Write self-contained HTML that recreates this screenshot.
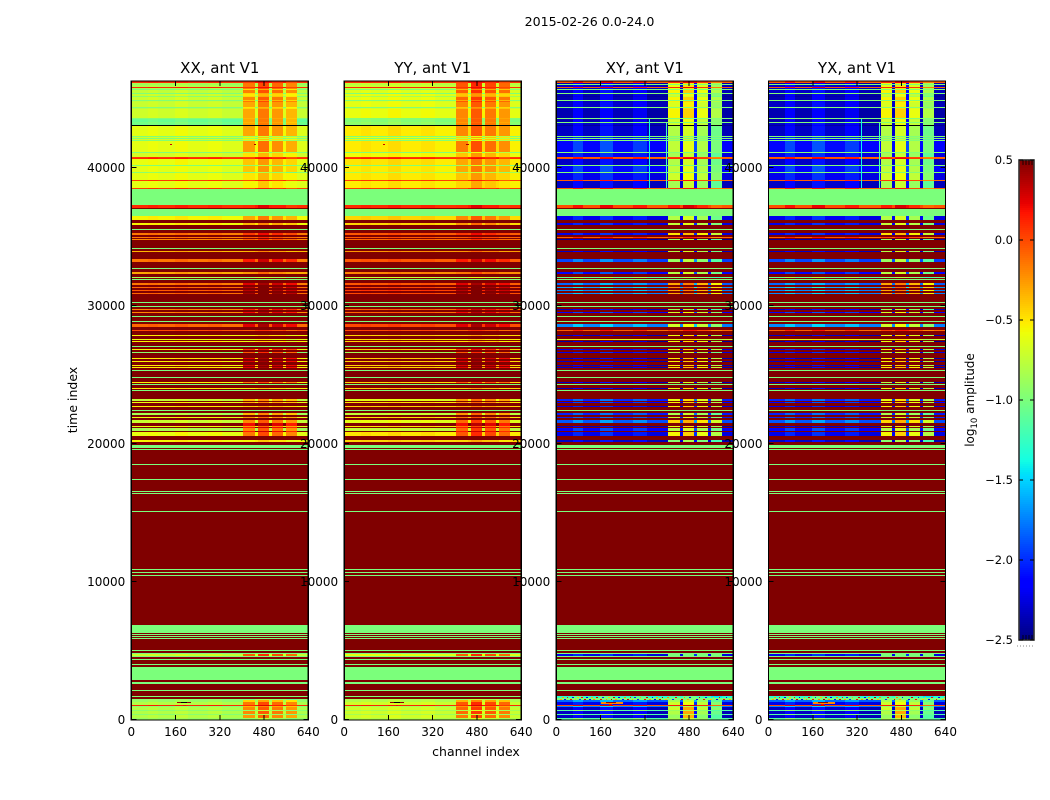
<!DOCTYPE html>
<html lang="en">
<head>
<meta charset="utf-8">
<title>2015-02-26 0.0-24.0</title>
<style>
html,body{margin:0;padding:0;background:#fff;width:1050px;height:800px;overflow:hidden}
svg{display:block}
text{font-family:"DejaVu Sans","Liberation Sans",sans-serif;fill:#000}
</style>
</head>
<body>
<svg id="figure" xmlns="http://www.w3.org/2000/svg" width="1050" height="800" viewBox="0 0 1050 800">
  <rect x="0" y="0" width="1050" height="800" fill="#fff"/>
  <g id="panels"></g>
  <g id="colorbar"></g>
  <g id="labels"></g>
  <text x="589.5" y="26" font-size="12.6" text-anchor="middle">2015-02-26 0.0-24.0</text>
  <text x="476" y="756" font-size="12.5" text-anchor="middle">channel index</text>
  <text transform="translate(77,400) rotate(-90)" font-size="12.5" text-anchor="middle">time index</text>
  <text transform="translate(974,400) rotate(-90)" font-size="12" text-anchor="middle">log<tspan font-size="8.5" dy="3">10</tspan><tspan dy="-3"> amplitude</tspan></text>
</svg>
<script>
const panelTitles = ["XX, ant V1", "YY, ant V1", "XY, ant V1", "YX, ant V1"];
const xTicks = [0, 160, 320, 480, 640];
const yTicks = [0, 10000, 20000, 30000, 40000];
const colorTicks = [0.5, 0.0, -0.5, -1.0, -1.5, -2.0, -2.5];
const saturatedValue = 0.6;
const flagValue = -1;
const timeMax = 46270;
const channelMax = 640;
const channelEdges = [0, 60, 96, 157, 204, 277, 328, 405, 448, 458, 498, 509, 549, 560, 600, 640];
const columnRoles = ["low", "low", "low", "low", "low", "low", "low", "high", "gap", "high", "gap", "high", "gap", "high", "low"];
const parallelOffsets = [0, 0.03, 0, 0.05, 0, 0.03, -0.02, -0.05, 0.06, 0.1, 0.06, 0, 0.06, -0.1, -0.02];
const crossOffsets = [-0.12, 0.08, -0.12, 0.12, -0.1, 0.05, -0.15, 0, -0.1, 0.12, 0.1, -0.05, -0.1, -0.25, -0.15];
const parallelHandShift = [0, 0.1];

/* each band: time start, time end, XX low, XX high, XY low, XY high */
const flaggedSpans = [[2100, 2170], [2570, 2640], [2680, 2750], [2862, 3800], [3985, 4055], [4350, 4420], [4529, 4600], [4750, 4819], [5000, 5070], [5800, 5870], [5965, 6035], [6110, 6180], [6255, 6325], [6340, 6847], [10415, 10485], [10630, 10700], [10850, 10920], [15050, 15120], [16355, 16425], [16500, 16570], [17370, 17440], [18457, 18527], [19544, 19614], [19673, 19890], [22390, 22460], [23840, 23910], [24275, 24345], [24782, 24852], [25290, 25360], [26965, 27035], [28840, 28910], [29200, 29270], [29890, 29960], [30215, 30285], [31882, 31952], [32675, 32745], [34125, 34195], [35450, 35520], [36520, 36980], [37280, 38419]];
const bandsBottom = [
  [0, 140, -0.9, -0.85, -1.02, -0.85],
  [140, 290, -0.8, -0.2, -2.2, -0.9],
  [290, 430, -0.95, -0.9, -1.02, -0.85],
  [430, 580, -0.8, -0.15, -2.2, -0.8],
  [580, 720, -0.95, -0.85, -1.02, -0.9],
  [720, 870, -0.8, -0.15, -2.2, -0.7],
  [870, 970, -0.95, -0.3, -1.6, -0.9],
  [970, 1050, 0.12, 0.15, 0.12, 0.15],
  [1050, 1260, -0.8, -0.1, -2.1, -0.7],
  [1260, 1400, -0.9, -0.4, -1.7, -0.85],
  [1400, 1490, -0.95, -0.95, -0.98, -0.98],
  [1490, 1530, 0.6, 0.6, -0.98, -0.98],
  [1530, 1600, -0.98, -0.98, -1.15, -1.15],
  [1600, 1620, 0.6, 0.6, -1.15, -1.15],
  [1620, 1700, -0.98, -0.98, -1.2, -1.2],
  [4600, 4750, -0.7, 0, -2.1, -1.0]
];
const bandsMiddle = [
  [20130, 20230, -0.55, -0.5, -2.2, -0.95],
  [20540, 20830, -0.6, -0.1, -2.1, -0.55],
  [20830, 20905, 0.6, 0.2, 0.6, 0.6],
  [20905, 21100, -0.85, -0.15, -2, -0.8],
  [21100, 21180, 0.6, 0.2, 0.6, 0.6],
  [21180, 21250, -0.6, -0.2, -2.2, -0.6],
  [21250, 21480, 0.6, 0.25, 0.6, 0.6],
  [21480, 21720, -0.72, -0.15, -1.75, -0.45],
  [21880, 21950, -0.6, -0.2, -1.9, -0.7],
  [22100, 22210, -0.85, -0.3, -1.9, -0.85],
  [22680, 22750, -0.55, -0.4, -2.1, -0.55],
  [22950, 23030, -0.6, -0.3, -2, -0.55],
  [23080, 23220, -0.75, -0.3, -1.9, -0.6],
  [23985, 24055, -0.55, -0.5, -2.2, -0.6],
  [24420, 24490, -0.55, -0.1, -2.2, -0.8],
  [25505, 25575, -0.55, 0.3, -2.2, -0.5],
  [25650, 25720, -0.55, 0.3, -2.2, -0.55],
  [25915, 25985, -0.55, 0.3, -2.2, -0.55],
  [26160, 26230, -0.55, 0.3, -2.2, -0.55],
  [26540, 26660, -0.95, 0, -2.1, -0.8],
  [26805, 26875, -0.55, 0.1, -2.1, -0.6],
  [27390, 27460, -0.55, -0.55, -2.3, -0.6],
  [27535, 27605, -0.6, -0.6, -0.6, -0.6],
  [27825, 27895, -0.55, -0.5, -2.2, -0.6],
  [28165, 28235, 0, 0, 0.05, 0.05],
  [28440, 28655, -0.1, 0.3, -1.6, -0.7],
  [29450, 29520, -0.2, 0.25, -2, -0.7],
  [29650, 29720, -0.2, 0.2, -2.2, -0.9],
  [30840, 30910, -0.1, 0.45, -1.6, -0.3],
  [31085, 31155, -0.05, 0.4, -1.6, -0.3],
  [31305, 31375, -0.1, 0.4, -1.5, -0.2],
  [31480, 31600, -0.15, 0.3, -1.7, -0.3],
  [32025, 32095, -0.85, -0.85, -0.95, -0.95],
  [32290, 32420, -0.3, -0.2, -2, -0.8],
  [33150, 33370, -0.15, 0.2, -1.8, -0.9],
  [33915, 33985, -0.35, -0.3, -2.2, -0.8],
  [34780, 34850, -0.2, 0, -2.3, -0.9],
  [34925, 34995, -0.15, 0, 0.05, 0.05],
  [35100, 35250, -0.15, 0.1, -2.1, -0.5],
  [35800, 35950, -0.55, -0.3, -2.1, -0.75],
  [36190, 36480, -0.55, -0.25, -2.1, -0.8],
  [37030, 37280, 0.1, 0.15, 0.1, 0.15],
  [38419, 38500, 0.05, 0.05, 0.05, 0.05]
];
const bandsTop = [
  [38500, 39000, -0.62, -0.5, -2.2, -0.85],
  [39000, 39070, 0.05, 0.05, 0.05, 0.05],
  [39070, 39610, -0.62, -0.45, -2.1, -0.7],
  [39610, 39690, -0.95, -0.95, -0.98, -0.98],
  [39690, 40090, -0.62, -0.35, -2, -0.75],
  [40090, 40170, -0.98, -0.9, -0.98, -0.98],
  [40170, 40650, -0.6, -0.35, -2.2, -0.8],
  [40650, 40720, 0.1, 0.1, 0.1, 0.1],
  [40720, 40790, 0.05, 0.05, 0.05, 0.05],
  [40790, 41040, -0.68, -0.45, -2.1, -0.85],
  [41040, 41110, -0.98, -0.8, -0.98, -0.98],
  [41110, 41890, -0.62, -0.22, -2, -0.75],
  [41890, 41960, -0.98, -0.8, -0.98, -0.98],
  [41960, 42075, -0.7, -0.5, -2.1, -0.85],
  [42075, 42145, -0.98, -0.8, -0.98, -0.98],
  [42145, 42245, -0.7, -0.5, -2.1, -0.85],
  [42245, 42315, -0.98, -0.8, -0.98, -0.98],
  [42315, 43040, -0.62, -0.25, -2.2, -0.8],
  [43040, 43110, -3, -3, -2.3, -3],
  [43110, 43260, -1.05, -0.25, -2.2, -0.7],
  [43260, 43330, -1.02, -0.3, -0.98, -0.98],
  [43330, 43550, -1.08, -0.25, -2.25, -0.7],
  [43550, 43620, -0.98, -0.3, -0.98, -0.98],
  [43620, 44210, -0.7, -0.25, -2.25, -0.55],
  [44210, 44280, -0.98, -0.45, -0.98, -0.98],
  [44280, 44310, -0.8, -0.4, -2.2, -0.6],
  [44310, 44380, -0.98, -0.45, -0.98, -0.98],
  [44380, 44715, -0.72, -0.25, -2.2, -0.65],
  [44715, 44785, 0.1, 0.1, 0.1, 0.1],
  [44785, 44855, -0.75, -0.1, -2.25, -0.55],
  [44855, 44925, -0.98, -0.35, -0.98, -0.98],
  [44925, 45100, -0.72, -0.15, -2.25, -0.55],
  [45100, 45170, -0.95, -0.4, -2.3, -0.8],
  [45170, 45330, -0.72, -0.45, -2.25, -0.7],
  [45330, 45400, -0.98, -0.4, -0.98, -0.98],
  [45400, 45620, -0.75, -0.12, -2.2, -0.55],
  [45620, 45690, -0.98, -0.4, -0.98, -0.98],
  [45690, 45760, -0.85, -0.1, -2.2, -0.6],
  [45760, 45835, 0.1, 0.1, 0.1, 0.1],
  [45835, 45980, -0.82, -0.1, -2.2, -0.6],
  [45980, 46050, -0.9, -0.1, -0.98, -0.98],
  [46050, 46150, -0.85, -0.1, -2.25, -0.6],
  [46150, 46270, 0.1, 0.1, 0.1, 0.1]
];
/* localised features: time start, time end, channel start, channel end, value */
const parallelSpots = [[1170, 1300, 165, 215, 0.45], [1195, 1265, 180, 200, -3], [1000, 1080, 188, 196, 0.2], [41660, 41730, 140, 146, 0.3], [41660, 41730, 442, 452, 0.4]];
const crossSpots = [[1130, 1260, 160, 240, -0.2], [1165, 1240, 180, 215, 0.45], [1030, 1090, 190, 200, 0.2], [38500, 43500, 334, 337, -1.4], [38500, 43200, 398, 402, -1.2], [140, 290, 458, 498, -0.35], [430, 580, 458, 498, -0.3], [720, 870, 458, 498, -0.3]];
const speckleChannels = [12, 28, 48, 66, 82, 100, 118, 134, 158, 178, 196, 214, 236, 256, 272, 292, 316, 336, 352, 372, 392, 420, 452, 472, 506, 530, 556, 578, 604, 626];
const speckleValues = [-0.3, -2.1, 0.2, -0.4, -2, 0.3, -2.2, -0.2, 0.2, -0.2, 0.4, -0.3, -2.1, 0.3, -0.3, -2, 0.2, -0.2, -2.2, 0.3, -0.4, -2, 0.3, -0.3, -2.2, 0.2, -0.4, -2.1, 0.2, -0.3];

const NS = "http://www.w3.org/2000/svg";
const panelLefts = [131.3, 344.2, 556.3, 768.5];
const panelWidth = 177;
const plotTop = 81;
const plotBottom = 720;
const cbarLeft = 1019, cbarRight = 1034, cbarTop = 160, cbarBottom = 640;
const panelsRoot = document.getElementById("panels");
const labelsRoot = document.getElementById("labels");
const cbarRoot = document.getElementById("colorbar");

function xScale(panelIndex, channel) { return panelLefts[panelIndex] + channel / channelMax * panelWidth; }
function yScale(time) { return plotBottom - 0.5 - time / 10000 * 138; }
function cbarScale(v) { return cbarBottom - (v + 2.5) / 3 * (cbarBottom - cbarTop); }
function interp(pts, x) {
  for (let i = 1; i < pts.length; i++) {
    if (x <= pts[i][0]) {
      const a = pts[i - 1], b = pts[i];
      return a[1] + (b[1] - a[1]) * (x - a[0]) / (b[0] - a[0]);
    }
  }
  return pts[pts.length - 1][1];
}
function jet(v) {
  if (v <= -3) return "#000";
  const n = Math.max(0, Math.min(1, (v + 2.5) / 3));
  const r = interp([[0, 0], [0.35, 0], [0.66, 1], [0.89, 1], [1, 0.5]], n);
  const g = interp([[0, 0], [0.125, 0], [0.375, 1], [0.64, 1], [0.91, 0], [1, 0]], n);
  const b = interp([[0, 0.5], [0.11, 1], [0.34, 1], [0.65, 0], [1, 0]], n);
  return "rgb(" + Math.round(r * 255) + "," + Math.round(g * 255) + "," + Math.round(b * 255) + ")";
}
function make(tag, attrs, parent) {
  const el = document.createElementNS(NS, tag);
  for (const k in attrs) el.setAttribute(k, attrs[k]);
  parent.appendChild(el);
  return el;
}
function adjust(v, offset, shift) {
  if (v === flagValue || v <= -0.98 && v >= -1 || v >= 0.5 || v <= -3) return v;
  return v + offset + (v < 0 ? shift : 0);
}
function drawCell(parent, p, t0, t1, c0, c1, v) {
  const y1 = Math.round(yScale(t1)), y0 = Math.round(yScale(t0));
  const x0 = Math.round(xScale(p, c0)), x1 = Math.round(xScale(p, c1));
  const cell = make("rect", { x: x0, y: y1, width: Math.max(x1 - x0, 1), height: Math.max(y0 - y1, 1), fill: jet(v) }, parent);
  
  
}
function drawBand(parent, p, band) {
  const isCross = p >= 2;
  const low = isCross ? band[4] : band[2];
  const high = isCross ? band[5] : band[3];
  const offsets = isCross ? crossOffsets : parallelOffsets;
  const shift = isCross ? 0 : parallelHandShift[p];
  for (let c = 0; c < columnRoles.length; c++) {
    const base = columnRoles[c] === "high" ? high : low;
    drawCell(parent, p, band[0], band[1], channelEdges[c], channelEdges[c + 1], adjust(base, offsets[c], shift));
  }
}

panelTitles.forEach(function (title, p) {
  const left = panelLefts[p];
  const g = make("g", { "shape-rendering": "crispEdges" }, panelsRoot);
  
  

  drawCell(g, p, 0, timeMax, 0, channelMax, saturatedValue);
  flaggedSpans.forEach(function (s) { drawCell(g, p, s[0], s[1], 0, channelMax, flagValue); });
  bandsBottom.concat(bandsMiddle, bandsTop).forEach(function (b) { drawBand(g, p, b); });
  (p < 2 ? parallelSpots : crossSpots).forEach(function (s) { drawCell(g, p, s[0], s[1], s[2], s[3], s[4]); });
  if (p >= 2) {
    speckleChannels.forEach(function (c, i) { drawCell(g, p, 1430, 1500, c, c + 7, speckleValues[i]); });
    speckleChannels.forEach(function (c, i) { drawCell(g, p, 1560, 1625, c + 9, c + 15, speckleValues[speckleValues.length - 1 - i]); });
  }

  const frame = make("rect", { x: left, y: plotTop, width: panelWidth, height: plotBottom - plotTop, fill: "none", stroke: "#000", "stroke-width": 1.2 }, g);
  
  

  xTicks.forEach(function (tv) {
    const x = xScale(p, tv);
    const bottomTick = make("line", { x1: x, x2: x, y1: plotBottom, y2: plotBottom - 5, stroke: "#000", "stroke-width": 1 }, g);
    
    
    const topTick = make("line", { x1: x, x2: x, y1: plotTop, y2: plotTop + 5, stroke: "#000", "stroke-width": 1 }, g);
    
    
    const lbl = make("text", { x: x, y: 736, "font-size": 12, "text-anchor": "middle" }, labelsRoot);
    lbl.textContent = String(tv);
    
    
  });
  yTicks.forEach(function (tv) {
    const y = yScale(tv);
    const leftTick = make("line", { x1: left, x2: left + 5, y1: y, y2: y, stroke: "#000", "stroke-width": 1 }, g);
    
    
    const rightTick = make("line", { x1: left + panelWidth, x2: left + panelWidth - 5, y1: y, y2: y, stroke: "#000", "stroke-width": 1 }, g);
    
    
    const lbl = make("text", { x: left - 6, y: y + 4.5, "font-size": 12, "text-anchor": "end" }, labelsRoot);
    lbl.textContent = String(tv);
    
    
  });
  const titleEl = make("text", { x: left + panelWidth / 2, y: 73, "font-size": 15, "text-anchor": "middle" }, labelsRoot);
  titleEl.textContent = title;
  
  
});

/* colour bar */
for (let y = cbarTop; y < cbarBottom; y += 2) {
  const v = -2.5 + (cbarBottom - y - 1) / (cbarBottom - cbarTop) * 3;
  const seg = make("rect", { x: cbarLeft, y: y, width: cbarRight - cbarLeft, height: 2.2, fill: jet(v) }, cbarRoot);
  
  
}
const cbarFrame = make("rect", { x: cbarLeft, y: cbarTop, width: cbarRight - cbarLeft, height: cbarBottom - cbarTop, fill: "none", stroke: "#333", "stroke-width": 1.6 }, cbarRoot);


colorTicks.forEach(function (tv) {
  const y = cbarScale(tv);
  const lt = make("line", { x1: cbarLeft, x2: cbarLeft + 4, y1: y, y2: y, stroke: "#000", "stroke-width": 1 }, cbarRoot);
  
  
  const rt = make("line", { x1: cbarRight, x2: cbarRight - 4, y1: y, y2: y, stroke: "#000", "stroke-width": 1 }, cbarRoot);
  
  
  const lbl = make("text", { x: 1013, y: y + 4, "font-size": 11.5, "text-anchor": "end" }, labelsRoot);
  lbl.textContent = tv.toFixed(1).replace("-", "\u2212");
  
  
});
[1023, 1026, 1029, 1032].forEach(function (x) {
  const a = make("line", { x1: x, x2: x, y1: cbarTop, y2: cbarTop + 5, stroke: "#000", "stroke-width": 0.8 }, cbarRoot);
  
  
  const b = make("line", { x1: x, x2: x, y1: cbarBottom, y2: cbarBottom - 5, stroke: "#000", "stroke-width": 0.8 }, cbarRoot);
  
  
});
const dots = make("line", { x1: 1017, x2: 1035, y1: 646, y2: 646, stroke: "#888", "stroke-width": 1, "stroke-dasharray": "1 2" }, cbarRoot);


</script>
</body>
</html>
